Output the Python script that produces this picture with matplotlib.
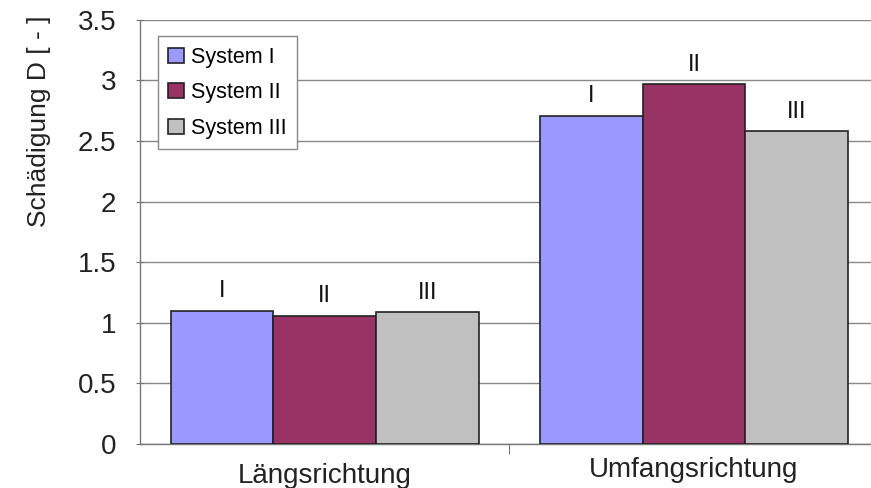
import matplotlib
matplotlib.use("Agg")
import matplotlib.pyplot as plt
import numpy as np

plt.rcParams['font.family'] = ['Liberation Sans', 'DejaVu Sans']

categories = ["Längsrichtung", "Umfangsrichtung"]
series_names = ["System I", "System II", "System III"]
bar_labels = ["I", "II", "III"]
values = {
    "System I": [1.10, 2.71],
    "System II": [1.06, 2.97],
    "System III": [1.09, 2.58],
}
colors = ["#9999FF", "#993366", "#C0C0C0"]
yticks = [0, 0.5, 1, 1.5, 2, 2.5, 3, 3.5]

fig = plt.figure(figsize=(8.71, 4.88), dpi=100)
ax = fig.add_axes([0.1607, 0.0902, 0.848, 0.869])

x = np.arange(len(categories))
width = 0.278
offsets = [-width, 0, width]

for name, lab, col, off in zip(series_names, bar_labels, colors, offsets):
    bars = ax.bar(x + off, values[name], width, color=col, edgecolor="#222222",
                  linewidth=1.2, label=name, zorder=3)
    for b, v in zip(bars, values[name]):
        ax.annotate(lab, (b.get_x() + b.get_width() / 2, v), xytext=(0, 6),
                    textcoords="offset points", ha="center", va="bottom",
                    fontsize=17, color="#111111")

ax.set_xlim(-0.5, 1.5)
ax.set_ylim(0, 3.5)
ax.set_yticks(yticks)
ax.set_yticklabels(["0", "0.5", "1", "1.5", "2", "2.5", "3", "3.5"], fontsize=20,
                   color="#222222")
ax.set_xticks([0.5])
ax.set_xticklabels([""])
ax.tick_params(axis="x", which="major", length=7, color="#777777", direction="out")
ax.tick_params(axis="y", length=6, color="#777777", direction="inout", pad=14)

# category names under each group (baseline offsets in points)
cat_offsets = [-28.0, -23.5]
for xi, name, dy in zip(x, categories, cat_offsets):
    ax.annotate(name, (xi, 0), xycoords=ax.get_xaxis_transform(),
                xytext=(0, dy), textcoords="offset points", ha="center",
                va="baseline", fontsize=20, color="#222222",
                annotation_clip=False)

ax.grid(axis="y", color="#888888", linewidth=1.0, zorder=0)
ax.set_axisbelow(True)
for s in ["top", "right"]:
    ax.spines[s].set_visible(False)
for s in ["left", "bottom"]:
    ax.spines[s].set_color("#777777")
    ax.spines[s].set_linewidth(1.0)

ax.set_ylabel("Schädigung D [ - ]", fontsize=19, color="#222222")
ax.yaxis.set_label_coords(-0.12, 0.76)

leg = ax.legend(loc="upper left", bbox_to_anchor=(0.024, 0.962), fontsize=15.5,
                handlelength=0.7, handleheight=0.7, handletextpad=0.35,
                fancybox=False, framealpha=1, edgecolor="#888888",
                borderpad=0.5, labelspacing=0.67, borderaxespad=0)
leg.get_frame().set_linewidth(1.0)

fig.savefig("out.png", dpi=100)
